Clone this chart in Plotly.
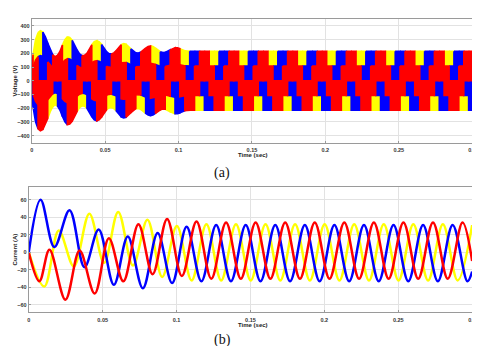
import plotly.graph_objects as go

# ---------------- (a) Voltage : three-phase PWM band pattern ----------------
# sector (60 deg) switching instants, ms
sector_edges_ms = [0.9, 4.3, 7.6, 10.9, 14.3, 17.6, 20.9, 24.3, 27.6, 30.9,
                   34.3, 37.6, 40.9, 44.3, 47.6, 50.9, 54.3, 57.6, 60.9, 64.3,
                   67.6, 70.9, 74.3, 77.6, 80.9, 84.3, 87.6, 90.9, 94.3, 97.6,
                   100.9, 104.3, 107.6, 110.9, 114.3, 117.6, 120.9, 124.3, 127.6, 130.9,
                   134.3, 137.6, 140.9, 144.3, 147.6, 150.9, 154.3, 157.6, 160.9, 164.3,
                   167.6, 170.9, 174.3, 177.6, 180.9, 184.3, 187.6, 190.9, 194.3, 197.6,
                   200.9, 204.3, 207.6, 210.9, 214.3, 217.6, 220.9, 224.3, 227.6, 230.9,
                   234.3, 237.6, 240.9, 244.3, 247.6, 250.9, 254.3, 257.6, 260.9, 264.3,
                   267.6, 270.9, 274.3, 277.6, 280.9, 284.3, 287.6, 290.9, 294.3, 297.6]
t_end_ms = 300.0

# envelope (peak phase voltage, V) during the start-up transient
env_t_ms = [0, 0.9, 2.6, 4.3, 5.9, 7.6, 9.3, 10.9, 12.6, 14.3, 15.9, 17.6, 19.3, 20.9,
            22.6, 24.3, 25.9, 27.6, 29.3, 30.9, 32.6, 34.3, 35.9, 37.6, 39.3, 40.9,
            42.6, 44.3, 45.9, 47.6, 49.3, 50.9, 52.6, 54.3, 55.9, 57.6, 59.3, 60.9,
            62.6, 64.3, 65.9, 67.6, 69.3, 70.9, 72.6, 74.3, 75.9, 77.6, 79.3, 80.9,
            82.6, 84.3, 85.9, 87.6, 89.3, 90.9, 92.6, 94.3, 95.9, 97.6, 99.3, 100.9,
            102.6, 104.3]
env_v = [60, 190, 300, 350, 365, 355, 320, 275, 225, 190, 175, 185, 215, 260,
         300, 320, 315, 295, 260, 225, 195, 183, 185, 200, 230, 262,
         285, 292, 285, 265, 238, 213, 198, 195, 203, 220, 245, 263,
         270, 266, 252, 233, 215, 204, 202, 208, 222, 238, 250, 254,
         250, 238, 224, 212, 206, 207, 214, 225, 235, 240, 240, 234,
         226, 218]
steady_env_v = 215

# band occupied by each phase in the six sectors of a cycle
yellow_bands = ['mid', 'top', 'top', 'mid', 'bot', 'bot']
blue_bands = ['bot', 'bot', 'mid', 'top', 'top', 'mid']
red_bands = ['top', 'mid', 'bot', 'bot', 'mid', 'top']

# ---------------- (b) Current : extrema ----------------
yellow_t_ms = [0, 10.5, 20.3, 30.5, 41.0, 51.0, 60.5, 70.5, 80.3, 90.3, 100.2,
               110.2, 120.2, 130.2, 140.2, 150.2, 160.2, 170.2, 180.2, 190.2, 200.2,
               210.2, 220.2, 230.2, 240.2, 250.2, 260.2, 270.2, 280.2, 290.2, 300.0]
yellow_i = [0, -39, 25, -16, 44, -12, 46, -15, 37, -28, 30,
            -32, 32, -32, 32, -32, 32, -32, 32, -32, 32,
            -32, 32, -32, 32, -32, 32, -32, 32, -32, 31]

blue_t_ms = [0, 8.0, 17.3, 27.6, 37.7, 47.3, 57.6, 67.0, 77.2, 87.2, 97.0,
             106.8, 116.8, 126.8, 136.8, 146.8, 156.8, 166.8, 176.8, 186.8, 196.8,
             206.8, 216.8, 226.8, 236.8, 246.8, 256.8, 266.8, 276.8, 286.8, 296.8, 300.0]
blue_i = [0, 60, 6, 48, -17, 26, -37, 18, -41, 22, -35,
          29, -33, 31, -33, 31, -33, 31, -33, 31, -33,
          31, -33, 31, -33, 31, -33, 31, -33, 31, -33, -22]

red_t_ms = [0, 7.2, 14.0, 24.8, 34.4, 44.6, 54.2, 64.0, 74.2, 83.8, 93.6,
            103.6, 113.5, 123.5, 133.5, 143.5, 153.5, 163.5, 173.5, 183.5, 193.5,
            203.5, 213.5, 223.5, 233.5, 243.5, 253.5, 263.5, 273.5, 283.5, 293.5, 300.0]
red_i = [0, -33, 3, -54, 2, -47, 16, -33, 32, -25, 38,
         -27, 35, -30, 34, -30, 34, -30, 34, -30, 34,
         -30, 34, -30, 34, -30, 34, -30, 34, -30, 34, -10]

x_ticks = [0, 0.05, 0.1, 0.15, 0.2, 0.25, 0.3]
x_ticktext = ['0', '0.05', '0.1', '0.15', '0.2', '0.25', '0.3']
v_ticks = [-400, -300, -200, -100, 0, 100, 200, 300, 400]
i_ticks = [-60, -40, -20, 0, 20, 40, 60]

YELLOW, BLUE, RED = '#FFFF00', '#0000FF', '#FF0000'

# ---------------- build ----------------
env_lookup = {round(t, 1): v for t, v in zip(env_t_ms, env_v)}


def env_at(t):
    return env_lookup.get(round(t, 1), steady_env_v)


band_factor = {'top': (0.0, 1.0), 'mid': (-0.5, 0.5), 'bot': (-1.0, 0.0)}
bounds = [0.0] + sector_edges_ms + [t_end_ms]


def band_polygons(bands):
    xs, ys = [], []
    for k in range(len(bounds) - 1):
        a, b = bounds[k], bounds[k + 1]
        lo, hi = band_factor[bands[k % 6]]
        pts = [a] + [t for t in env_t_ms if a < t < b] + [b]
        top = [(t / 1000.0, hi * env_at(t)) for t in pts]
        bot = [(t / 1000.0, lo * env_at(t)) for t in reversed(pts)]
        for x, y in top + bot + [top[0]]:
            xs.append(x)
            ys.append(y)
        xs.append(None)
        ys.append(None)
    return xs, ys


fig = go.Figure()
for bands, col in [(yellow_bands, YELLOW), (blue_bands, BLUE), (red_bands, RED)]:
    xs, ys = band_polygons(bands)
    fig.add_trace(go.Scatter(x=xs, y=ys, mode='lines', fill='toself', fillcolor=col,
                             line=dict(color=col, width=1.6), xaxis='x', yaxis='y',
                             hoverinfo='skip', showlegend=False))

for tt, ii, col in [(yellow_t_ms, yellow_i, YELLOW), (blue_t_ms, blue_i, BLUE), (red_t_ms, red_i, RED)]:
    fig.add_trace(go.Scatter(x=[t / 1000.0 for t in tt], y=ii, mode='lines',
                             line=dict(color=col, width=2.5, shape='spline', smoothing=1.0),
                             xaxis='x2', yaxis='y2', hoverinfo='skip', showlegend=False))

W, H = 480, 346
tickfont = dict(family='Liberation Sans, Arial', size=5.5, color='#333333', weight='bold')
axis_common = dict(showline=True, mirror=True, linecolor='#9a9a9a', linewidth=1,
                   showgrid=True, gridcolor='#e2e2e2', gridwidth=1, zeroline=False,
                   ticks='inside', ticklen=2, tickcolor='#9a9a9a', tickfont=tickfont)

fig.update_layout(
    width=W, height=H, autosize=False, margin=dict(l=0, r=0, t=0, b=0),
    paper_bgcolor='white', plot_bgcolor='white',
    xaxis=dict(domain=[22 / W, 468 / W], range=[0, 0.3], tickvals=x_ticks, ticktext=x_ticktext,
               anchor='y', ticklabelstandoff=2, **axis_common),
    yaxis=dict(domain=[1 - 134.5 / H, 1 - 11 / H], range=[-450, 450], tickvals=v_ticks,
               anchor='x', **axis_common),
    xaxis2=dict(domain=[19 / W, 468 / W], range=[0, 0.3], tickvals=x_ticks, ticktext=x_ticktext,
                anchor='y2', ticklabelstandoff=2, **axis_common),
    yaxis2=dict(domain=[1 - 304 / H, 1 - 178.5 / H], range=[-68, 75], tickvals=i_ticks,
                anchor='x2', **axis_common),
)

lab = dict(family='Liberation Sans, Arial', size=6, color='#222222', weight='bold')
cap = dict(family='Liberation Serif, Times New Roman', size=14, color='#111111')
ann = [
    dict(text='Voltage (V)', x=5.5 / W, y=1 - 73 / H, textangle=-90, font=lab),
    dict(text='Time (sec)', x=246 / W, y=1 - 147.5 / H, font=lab),
    dict(text='(a)', x=215 / W, y=1 - 165 / H, font=cap),
    dict(text='Current (A)', x=5.5 / W, y=1 - 241 / H, textangle=-90, font=lab),
    dict(text='Time (sec)', x=246 / W, y=1 - 317 / H, font=lab),
    dict(text='(b)', x=215 / W, y=1 - 332 / H, font=cap),
]
for a in ann:
    fig.add_annotation(xref='paper', yref='paper', showarrow=False,
                       xanchor='center', yanchor='middle', **a)

fig.write_html('out.html')
